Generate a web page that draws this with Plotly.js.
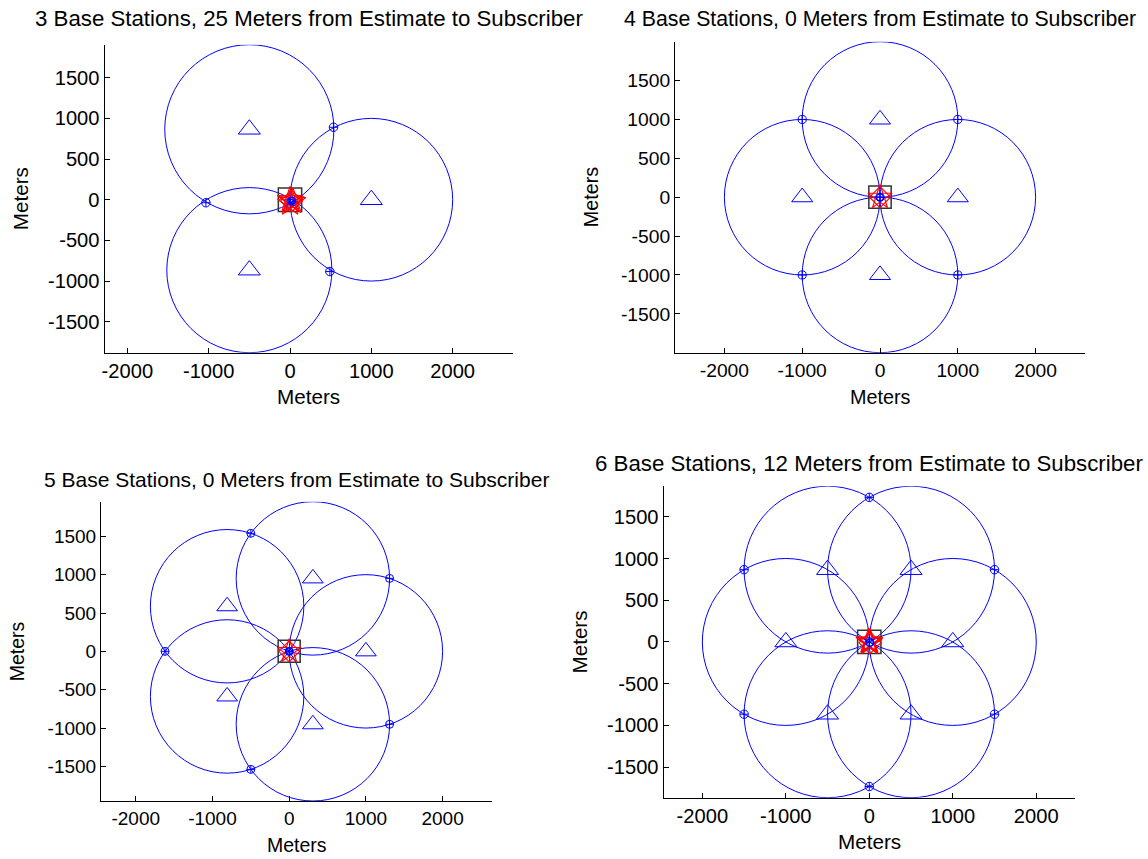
<!DOCTYPE html>
<html>
<head>
<meta charset="utf-8">
<script src="https://cdn.plot.ly/plotly-3.0.1.min.js"></script>
<style>
  html, body { margin: 0; padding: 0; background: #fff; }
  #chart { width: 1148px; height: 859px; }
</style>
</head>
<body>
<div id="chart"></div>
<script>
// ---------------- data (metres) ----------------
// Subplot 1: 3 base stations
const st3X = [1000, -500, -500];
const st3Y = [0, 866, -866];
const rng3 = [1000, 1040, 1015];
const isc3X = [535, -1034, 490, 0, 39, 1];
const isc3Y = [891, -37, -883, 0, -24, -45];
const est3X = [0, 39, 1, 20];
const est3Y = [0, -24, -45, -15];
const fin3X = [20];
const fin3Y = [-15];

// Subplot 2: 4 base stations
const st4X = [1000, 0, -1000, 0];
const st4Y = [0, 1000, 0, -1000];
const rng4 = [1000, 1000, 1000, 1000];
const isc4X = [1000, -1000, -1000, 1000, 0];
const isc4Y = [1000, 1000, -1000, -1000, 0];
const est4X = [0];
const est4Y = [0];
const fin4X = [0];
const fin4Y = [0];

// Subplot 3: 5 base stations
const st5X = [1000, 309, -809, -809, 309];
const st5Y = [0, 951, 588, -588, -951];
const rng5 = [1000, 1000, 1000, 1000, 1000];
const isc5X = [1309, -500, -1618, -500, 1309, 0];
const isc5Y = [951, 1539, 0, -1539, -951, 0];
const est5X = [0];
const est5Y = [0];
const fin5X = [0];
const fin5Y = [0];

// Subplot 4: 6 base stations
const st6X = [1000, 500, -500, -1000, -500, 500];
const st6Y = [0, 866, 866, 0, -866, -866];
const rng6 = [1000, 1000, 1000, 1000, 1000, 1000];
const isc6X = [1500, 0, -1500, -1500, 0, 1500, 0];
const isc6Y = [866, 1732, 866, -866, -1732, -866, 0];
const est6X = [0, 10, -8, 6];
const est6Y = [0, 6, 8, -9];
const fin6X = [8];
const fin6Y = [-9];

// subscriber true location
const subX = [0];
const subY = [0];

// titles and tick labels
const titles = [
  '3 Base Stations, 25 Meters from Estimate to Subscriber',
  '4 Base Stations, 0 Meters from Estimate to Subscriber',
  '5 Base Stations, 0 Meters from Estimate to Subscriber',
  '6 Base Stations, 12 Meters from Estimate to Subscriber'
];
const axisLabel = 'Meters';
const xTickVals = [-2000, -1000, 0, 1000, 2000];
const xTickText = ['-2000', '-1000', '0', '1000', '2000'];
const yTickVals = [-1500, -1000, -500, 0, 500, 1000, 1500];
const yTickText = ['-1500', '-1000', '-500', '0', '500', '1000', '1500'];

// ---------------- layout geometry ----------------
const W = 1148, H = 859;
const FONT = 'Liberation Sans, Arial, Helvetica, sans-serif';
const BLUE = 'rgb(0,0,255)';
const RED = 'rgb(255,0,0)';

// pixel boxes of each axes [left, right, top, bottom], data ranges, text scale
const panels = [
  {box: [104.5, 513, 44.7, 352.7], xr: [-2281, 2742], yr: [-1881, 1906], titleY: 19, k: 1.06,
   st: [st3X, st3Y, rng3], isc: [isc3X, isc3Y], est: [est3X, est3Y], fin: [fin3X, fin3Y]},
  {box: [675, 1085, 41.7, 352.7], xr: [-2635, 2635], yr: [-2000, 2000], titleY: 19, k: 1.014,
   st: [st4X, st4Y, rng4], isc: [isc4X, isc4Y], est: [est4X, est4Y], fin: [fin4X, fin4Y]},
  {box: [101, 492, 501.7, 801], xr: [-2453, 2644], yr: [-1951, 1951], titleY: 479, k: 1.0,
   st: [st5X, st5Y, rng5], isc: [isc5X, isc5Y], est: [est5X, est5Y], fin: [fin5X, fin5Y]},
  {box: [663.6, 1075, 486.2, 797.7], xr: [-2464, 2464], yr: [-1866, 1866], titleY: 463, k: 1.06,
   st: [st6X, st6Y, rng6], isc: [isc6X, isc6Y], est: [est6X, est6Y], fin: [fin6X, fin6Y]}
];

const px = v => v / W;
const py = v => 1 - v / H;

const traces = [];
const shapes = [];
const annotations = [];
const layout = {
  width: W, height: H,
  margin: {l: 0, r: 0, t: 0, b: 0},
  paper_bgcolor: '#fff',
  plot_bgcolor: 'rgba(0,0,0,0)',
  showlegend: false,
  font: {family: FONT, color: '#000'}
};

panels.forEach((p, i) => {
  const n = i === 0 ? '' : String(i + 1);
  const xa = 'x' + n, ya = 'y' + n;
  const [l, r, t, b] = p.box;
  const k = p.k;
  const axCommon = {
    showline: true, linecolor: '#000', linewidth: 1, mirror: false,
    ticks: 'inside', ticklen: 5, tickwidth: 1, tickcolor: '#000',
    showgrid: false, zeroline: false, fixedrange: true,
    tickfont: {family: FONT, size: 19 * k, color: '#000'},
    tickmode: 'array'
  };
  layout['xaxis' + n] = Object.assign({}, axCommon, {
    domain: [px(l), px(r)], range: p.xr, anchor: ya,
    tickvals: xTickVals, ticktext: xTickText
  });
  layout['yaxis' + n] = Object.assign({}, axCommon, {
    domain: [py(b), py(t)], range: p.yr, anchor: xa,
    tickvals: yTickVals, ticktext: yTickText
  });

  // range circles around each base station
  const [sx, sy, sr] = p.st;
  sx.forEach((cx, j) => {
    shapes.push({
      type: 'circle', xref: xa, yref: ya, layer: 'below',
      x0: cx - sr[j], x1: cx + sr[j], y0: sy[j] - sr[j], y1: sy[j] + sr[j],
      line: {color: BLUE, width: 1}
    });
  });

  // base stations
  traces.push({x: sx, y: sy, xaxis: xa, yaxis: ya, type: 'scatter', mode: 'markers',
    marker: {symbol: 'triangle-up-open', size: 18 * k, color: BLUE, line: {width: 1, color: BLUE}},
    hoverinfo: 'x+y'});
  // circle intersections
  traces.push({x: p.isc[0], y: p.isc[1], xaxis: xa, yaxis: ya, type: 'scatter', mode: 'markers',
    marker: {symbol: 'circle-cross-open', size: 8 * k, color: BLUE, line: {width: 1, color: BLUE}},
    hoverinfo: 'x+y'});
  // subscriber
  traces.push({x: subX, y: subY, xaxis: xa, yaxis: ya, type: 'scatter', mode: 'markers',
    marker: {symbol: 'square-open', size: 22 * k, color: '#333', line: {width: 1.5, color: '#333'}},
    hoverinfo: 'x+y'});
  // estimate iterations
  traces.push({x: p.est[0], y: p.est[1], xaxis: xa, yaxis: ya, type: 'scatter', mode: 'markers',
    marker: {symbol: 'star-open', size: 18 * k, color: RED, line: {width: 1.1, color: RED}},
    hoverinfo: 'x+y'});
  // final estimate
  traces.push({x: p.fin[0], y: p.fin[1], xaxis: xa, yaxis: ya, type: 'scatter', mode: 'markers',
    marker: {symbol: 'diamond-open', size: 16 * k, color: RED, line: {width: 1.1, color: RED}},
    hoverinfo: 'x+y'});
  // blue centre marker
  traces.push({x: p.fin[0], y: p.fin[1], xaxis: xa, yaxis: ya, type: 'scatter', mode: 'markers',
    marker: {symbol: 'circle-open', size: 7 * k, color: BLUE, line: {width: 1.5, color: BLUE}},
    hoverinfo: 'x+y'});

  // title
  annotations.push({
    text: titles[i], xref: 'paper', yref: 'paper',
    x: px((l + r) / 2), y: py(p.titleY), xanchor: 'center', yanchor: 'middle',
    showarrow: false, font: {family: FONT, size: 21 * k, color: '#000'}
  });
  // x label
  annotations.push({
    text: axisLabel, xref: 'paper', yref: 'paper',
    x: px((l + r) / 2), y: py(b + 44), xanchor: 'center', yanchor: 'middle',
    showarrow: false, font: {family: FONT, size: 19.5 * k, color: '#000'}
  });
  // y label
  annotations.push({
    text: axisLabel, xref: 'paper', yref: 'paper', textangle: -90,
    x: px(l - 84), y: py((t + b) / 2), xanchor: 'center', yanchor: 'middle',
    showarrow: false, font: {family: FONT, size: 19.5 * k, color: '#000'}
  });
});

layout.shapes = shapes;
layout.annotations = annotations;

Plotly.newPlot('chart', traces, layout, {displayModeBar: false, staticPlot: true});
</script>
</body>
</html>
